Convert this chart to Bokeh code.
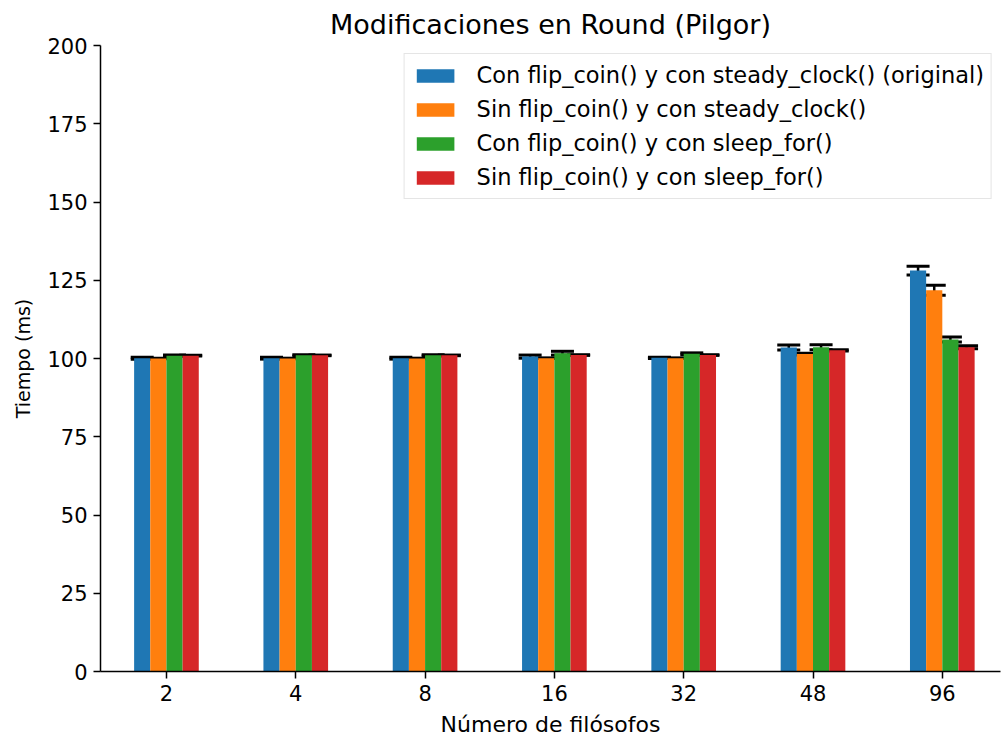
import numpy as np
from bokeh.plotting import figure
from bokeh.models import (ColumnDataSource, Range1d, FixedTicker, Whisker, TeeHead)
from bokeh.embed import file_html
from bokeh.resources import INLINE

# Number of philosophers (x categories)
filosofos = ["2", "4", "8", "16", "32", "48", "96"]

# Mean round time (ms) for each variant, with its error
con_flip_steady = [100.1, 100.1, 100.1, 100.6, 100.2, 103.5, 128.1]
con_flip_steady_err = [0.3, 0.3, 0.3, 0.5, 0.2, 0.8, 1.4]

sin_flip_steady = [100.0, 100.0, 100.0, 100.1, 100.1, 101.4, 121.8]
sin_flip_steady_err = [0.1, 0.1, 0.1, 0.1, 0.1, 0.3, 1.6]

con_flip_sleep = [100.9, 101.0, 101.0, 101.7, 101.5, 103.6, 106.1]
con_flip_sleep_err = [0.2, 0.2, 0.2, 0.6, 0.3, 0.8, 0.8]

sin_flip_sleep = [100.9, 101.0, 101.0, 101.1, 101.1, 102.6, 103.6]
sin_flip_sleep_err = [0.1, 0.1, 0.1, 0.1, 0.1, 0.2, 0.5]

series = [
    ("Con flip_coin() y con steady_clock() (original)", con_flip_steady, con_flip_steady_err, "#1f77b4"),
    ("Sin flip_coin() y con steady_clock()", sin_flip_steady, sin_flip_steady_err, "#ff7f0e"),
    ("Con flip_coin() y con sleep_for()", con_flip_sleep, con_flip_sleep_err, "#2ca02c"),
    ("Sin flip_coin() y con sleep_for()", sin_flip_sleep, sin_flip_sleep_err, "#d62728"),
]

FONT = "DejaVu Sans"
bar_w = 0.125

p = figure(width=1001, height=740, output_backend="svg", toolbar_location=None,
           x_range=Range1d(-0.51, 6.45), y_range=Range1d(0, 200),
           min_border_left=100, min_border_right=1, min_border_top=44,
           min_border_bottom=69)

p.title.text = "Modificaciones en Round (Pilgor)"
p.title.align = "center"
p.title.text_font = FONT
p.title.text_font_size = "27px"
p.title.text_font_style = "normal"
p.title.text_color = "black"
p.title.standoff = 12

idx = np.arange(len(filosofos))
offsets = [-1.5 * bar_w, -0.5 * bar_w, 0.5 * bar_w, 1.5 * bar_w]

for (label, vals, errs, color), off in zip(series, offsets):
    vals = np.array(vals, dtype=float)
    errs = np.array(errs, dtype=float)
    src = ColumnDataSource(dict(x=idx + off, top=vals,
                                upper=vals + errs, lower=vals - errs))
    p.vbar(x="x", top="top", bottom=0, width=bar_w, source=src,
           fill_color=color, line_color=None, legend_label=label)
    p.add_layout(Whisker(source=src, base="x", upper="upper", lower="lower",
                         dimension="height", line_color="black", line_width=2.5,
                         upper_head=TeeHead(size=23, line_color="black", line_width=3),
                         lower_head=TeeHead(size=23, line_color="black", line_width=3)))

# Axes
p.xaxis.ticker = FixedTicker(ticks=list(idx))
p.xaxis.major_label_overrides = {int(i): f for i, f in zip(idx, filosofos)}
p.yaxis.ticker = FixedTicker(ticks=[0, 25, 50, 75, 100, 125, 150, 175, 200])

for ax in (p.xaxis[0], p.yaxis[0]):
    ax.axis_line_color = "black"
    ax.axis_line_width = 1.5
    ax.major_tick_line_color = "black"
    ax.major_tick_line_width = 1.5
    ax.major_tick_out = 7
    ax.major_tick_in = 0
    ax.minor_tick_line_color = None
    ax.major_label_text_font = FONT
    ax.major_label_text_font_size = "21px"
    ax.major_label_text_color = "black"
    ax.axis_label_text_font = FONT
    ax.axis_label_text_font_style = "normal"
    ax.axis_label_text_color = "black"
    ax.major_label_standoff = 6

p.xaxis.axis_label = "Número de filósofos"
p.xaxis.axis_label_text_font_size = "22px"
p.xaxis.axis_label_standoff = 8
p.yaxis.axis_label = "Tiempo (ms)"
p.yaxis.axis_label_text_font_size = "19px"
p.yaxis.axis_label_standoff = 10

p.xgrid.grid_line_color = None
p.ygrid.grid_line_color = None
p.outline_line_color = None

# Legend
lg = p.legend[0]
lg.location = "top_right"
lg.margin = 8
lg.padding = 7
lg.spacing = 6
lg.glyph_width = 47
lg.glyph_height = 17
lg.label_height = 28
lg.label_standoff = 18
lg.label_text_font = FONT
lg.label_text_font_size = "22.5px"
lg.label_text_color = "black"
lg.border_line_color = "#cccccc"
lg.border_line_width = 1.5
lg.background_fill_alpha = 0.85

open("out.html", "w").write(file_html(p, INLINE))
